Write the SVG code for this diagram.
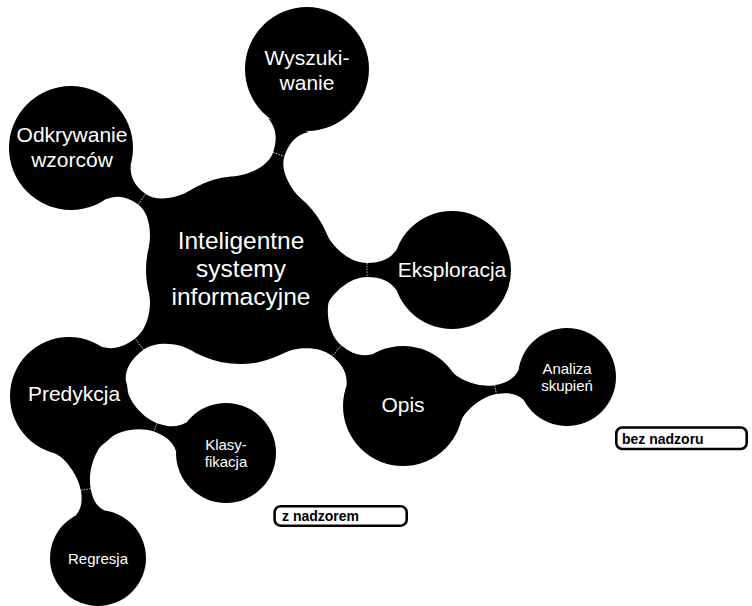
<svg xmlns="http://www.w3.org/2000/svg" width="752" height="606" viewBox="0 0 752 606">
<style>
.c{fill:#000}
.bar{fill:#000}
.tick{stroke:#fff;stroke-width:0.7;stroke-dasharray:1.6 1.2;fill:none}
.t{fill:#fff;font-family:"Liberation Sans",Arial,sans-serif;text-anchor:middle}
.t0{font-size:24.5px}
.t1{font-size:21px}
.t2{font-size:15px}
.lbl{fill:#fff;stroke:#000;stroke-width:2.6}
.lt{fill:#000;font-family:"Liberation Sans",Arial,sans-serif;font-weight:bold;font-size:14px}
</style>
<g id="connectors">
  <g transform="translate(240,270) rotate(-71.48)">
    <path class="bar" d="M87.15 35.21 C91.65 24.08 106.3 6 122 6 C136.4 6 145.9 10.6 152.6 21.2 L152.6 -21.2 C145.9 -10.6 136.4 -6 122 -6 C106.3 -6 91.65 -24.08 87.15 -35.21 Z"/>
    <line class="tick" x1="122" y1="-6" x2="122" y2="6"/>
  </g>
  <g transform="translate(240,270) rotate(-144.17)">
    <path class="bar" d="M87.15 35.21 C91.65 24.08 105.8 6.5 121 6.5 C134.7 6.5 143.7 10.9 150.1 21.2 L150.1 -21.2 C143.7 -10.9 134.7 -6.5 121 -6.5 C105.8 -6.5 91.65 -24.08 87.15 -35.21 Z"/>
    <line class="tick" x1="121" y1="-6.5" x2="121" y2="6.5"/>
  </g>
  <g transform="translate(240,270)">
    <path class="bar" d="M87.15 35.21 C91.65 24.08 109.1 7 127 7 C140.9 7 150.1 10.95 156.56 20.18 L156.56 -20.18 C150.1 -10.95 140.9 -7 127 -7 C109.1 -7 91.65 -24.08 87.15 -35.21 Z"/>
    <line class="tick" x1="127" y1="-7" x2="127" y2="7"/>
  </g>
  <g transform="translate(240,270) rotate(143.62)">
    <path class="bar" d="M87.15 35.21 C91.65 24.08 108 7 125 7 C140 7 149.9 10.95 156.96 20.18 L156.96 -20.18 C149.9 -10.95 140 -7 125 -7 C108 -7 91.65 -24.08 87.15 -35.21 Z"/>
    <line class="tick" x1="125" y1="-7" x2="125" y2="7"/>
  </g>
  <g transform="translate(240,270) rotate(39.84)">
    <path class="bar" d="M87.15 35.21 C91.65 24.08 108.5 7 126 7 C140.1 7 149.3 11.06 155.9 20.52 L155.9 -20.52 C149.3 -11.06 140.1 -7 126 -7 C108.5 -7 91.65 -24.08 87.15 -35.21 Z"/>
    <line class="tick" x1="126" y1="-7" x2="126" y2="7"/>
  </g>
  <g transform="translate(403,406) rotate(-10.03)">
    <path class="bar" d="M54.38 25.36 C57.76 18.11 76.2 4.5 94 4.5 C106.2 4.5 114.2 7.7 119.9 15.14 L119.9 -15.14 C114.2 -7.7 106.2 -4.5 94 -4.5 C76.2 -4.5 57.76 -18.11 54.38 -25.36 Z"/>
    <line class="tick" x1="94" y1="-4.5" x2="94" y2="4.5"/>
  </g>
  <g transform="translate(69,396) rotate(19.95)">
    <path class="bar" d="M53.47 24.93 C56.85 17.68 74.7 4.5 92 4.5 C104.9 4.5 113.4 7.8 119.44 15.45 L119.44 -15.45 C113.4 -7.8 104.9 -4.5 92 -4.5 C74.7 -4.5 56.85 -17.68 53.47 -24.93 Z"/>
    <line class="tick" x1="92" y1="-4.5" x2="92" y2="4.5"/>
  </g>
  <g transform="translate(69,396) rotate(79.85)">
    <path class="bar" d="M53.47 24.93 C56.85 17.68 76.3 5 95 5 C106.3 5 113.7 7.9 118.95 14.83 L118.95 -14.83 C113.7 -7.9 106.3 -5 95 -5 C76.3 -5 56.85 -17.68 53.47 -24.93 Z"/>
    <line class="tick" x1="95" y1="-5" x2="95" y2="5"/>
  </g>
</g>
<g id="root">
  <circle class="c" cx="240" cy="270" r="94"/>
  <text class="t t0" x="241" y="249">Inteligentne</text>
  <text class="t t0" x="241" y="277">systemy</text>
  <text class="t t0" x="241" y="305">informacyjne</text>
</g>
<g id="wyszukiwanie">
  <circle class="c" cx="307" cy="69" r="62"/>
  <text class="t t1" x="307" y="64.5">Wyszuki-</text>
  <text class="t t1" x="307" y="89.5">wanie</text>
</g>
<g id="odkrywanie">
  <circle class="c" cx="71" cy="148" r="62"/>
  <text class="t t1" x="72" y="141.5">Odkrywanie</text>
  <text class="t t1" x="72" y="167">wzorców</text>
</g>
<g id="eksploracja">
  <circle class="c" cx="452" cy="270" r="59"/>
  <text class="t t1" x="452" y="276.5">Eksploracja</text>
</g>
<g id="predykcja">
  <circle class="c" cx="69" cy="396" r="59"/>
  <text class="t t1" x="74" y="401">Predykcja</text>
</g>
<g id="opis">
  <circle class="c" cx="403" cy="406" r="60"/>
  <text class="t t1" x="403" y="412">Opis</text>
</g>
<g id="analiza">
  <circle class="c" cx="567" cy="377" r="49"/>
  <text class="t t2" x="567" y="374">Analiza</text>
  <text class="t t2" x="567" y="391">skupień</text>
</g>
<g id="klasyfikacja">
  <circle class="c" cx="226" cy="453" r="50"/>
  <text class="t t2" x="226" y="449.5">Klasy-</text>
  <text class="t t2" x="226" y="467">fikacja</text>
</g>
<g id="regresja">
  <circle class="c" cx="98" cy="558" r="48"/>
  <text class="t t2" x="98" y="563.5">Regresja</text>
</g>
<g id="z-nadzorem">
  <rect class="lbl" x="274.6" y="506.3" width="132.1" height="19.4" rx="6"/>
  <text class="lt" x="282" y="520.5">z nadzorem</text>
</g>
<g id="bez-nadzoru">
  <rect class="lbl" x="616.3" y="427.5" width="130.4" height="21.5" rx="6"/>
  <text class="lt" x="622" y="443.5">bez nadzoru</text>
</g>
</svg>
